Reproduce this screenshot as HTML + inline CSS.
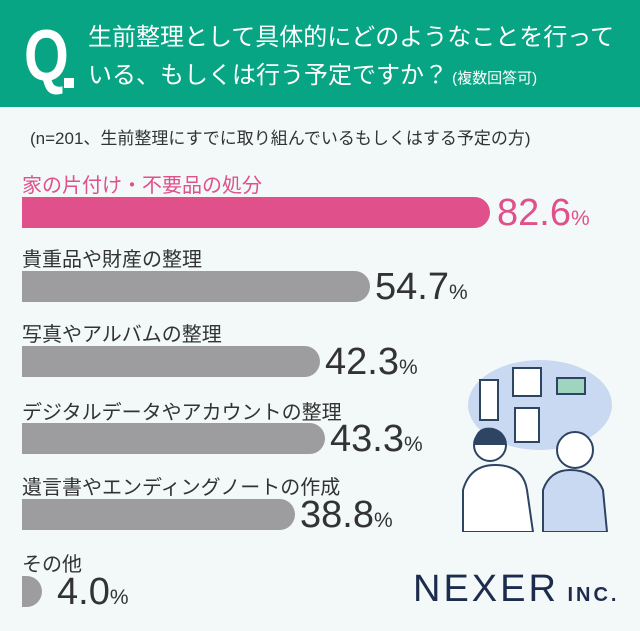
<!DOCTYPE html>
<html><head><meta charset="utf-8"><style>
*{margin:0;padding:0;box-sizing:border-box}
body{width:640px;height:631px;background:#f2f9f8;position:relative;overflow:hidden;font-family:"Liberation Sans","Noto Sans CJK JP",sans-serif}
.hdr{position:absolute;left:0;top:0;width:640px;height:107px;background:#08a584}
.q{position:absolute;left:24px;top:18px;color:#fff;font-size:72px;font-weight:bold;line-height:76px;transform:scaleX(.8);transform-origin:left}
.qd{position:absolute;left:64px;top:78px;width:10px;height:10px;background:#fff}
.t{position:absolute;color:#fff;font-size:24px;line-height:28px;white-space:nowrap}
.sub{position:absolute;left:30px;top:124px;font-size:17px;color:#333;white-space:nowrap}
.lab{position:absolute;left:22px;font-size:20px;color:#333;white-space:nowrap}
.bar{position:absolute;left:22px;height:31px;background:#9d9d9f;border-radius:0 16px 16px 0}
.pct{position:absolute;font-size:38px;color:#333;white-space:nowrap;line-height:40px}
.pct span{font-size:21px}
</style></head><body>
<div class="hdr"></div>
<div class="q">Q</div><div class="qd"></div>
<div class="t" style="left:88px;top:24px">生前整理として具体的にどのようなことを行って</div>
<div class="t" style="left:88px;top:62px">いる、もしくは行う予定ですか？<span style="font-size:15px"> (複数回答可)</span></div>
<div class="sub">(n=201、生前整理にすでに取り組んでいるもしくはする予定の方)</div>

<div class="lab" style="top:169px;color:#e0508a">家の片付け・不要品の処分</div>
<div class="bar" style="top:197px;width:468px;background:#e0508a"></div>
<div class="pct" style="left:497px;top:193px;color:#e0508a">82.6<span>%</span></div>

<div class="lab" style="top:243px">貴重品や財産の整理</div>
<div class="bar" style="top:271px;width:348px"></div>
<div class="pct" style="left:375px;top:267px">54.7<span>%</span></div>

<div class="lab" style="top:318px">写真やアルバムの整理</div>
<div class="bar" style="top:346px;width:298px"></div>
<div class="pct" style="left:325px;top:342px">42.3<span>%</span></div>

<div class="lab" style="top:396px">デジタルデータやアカウントの整理</div>
<div class="bar" style="top:423px;width:303px"></div>
<div class="pct" style="left:330px;top:419px">43.3<span>%</span></div>

<div class="lab" style="top:471px">遺言書やエンディングノートの作成</div>
<div class="bar" style="top:499px;width:273px"></div>
<div class="pct" style="left:300px;top:495px">38.8<span>%</span></div>

<div class="lab" style="top:548px">その他</div>
<div class="bar" style="top:576px;width:20px"></div>
<div class="pct" style="left:57px;top:572px">4.0<span>%</span></div>

<svg style="position:absolute;left:455px;top:350px" width="160" height="182">
<ellipse cx="85" cy="55" rx="72" ry="45" fill="#c9d9f2"/>
<rect x="25" y="30" width="18" height="40" fill="#fff" stroke="#2d4463" stroke-width="2"/>
<rect x="58" y="18" width="28" height="28" fill="#fff" stroke="#2d4463" stroke-width="2"/>
<rect x="102" y="28" width="28" height="16" fill="#9fd4bf" stroke="#2d4463" stroke-width="2"/>
<rect x="60" y="58" width="24" height="34" fill="#fff" stroke="#2d4463" stroke-width="2"/>
<path d="M8 182 V140 Q15 115 40 115 Q68 115 72 140 L78 182Z" fill="#fff" stroke="#2d4463" stroke-width="2"/>
<circle cx="35" cy="95" r="16" fill="#fff" stroke="#2d4463" stroke-width="2"/>
<path d="M19 95 Q20 75 38 78 Q52 82 50 95" fill="#2d4463"/>
<path d="M88 182 V140 Q95 120 115 120 Q140 120 148 140 L152 182Z" fill="#c9d9f2" stroke="#2d4463" stroke-width="2"/>
<circle cx="120" cy="100" r="18" fill="#fff" stroke="#2d4463" stroke-width="2"/>
</svg>
<div style="position:absolute;left:413px;top:568px;font-size:38px;color:#1d2c4c;letter-spacing:3px;white-space:nowrap">NEXER<span style="font-size:20px;font-weight:bold;letter-spacing:3px"> INC.</span></div>
</body></html>
